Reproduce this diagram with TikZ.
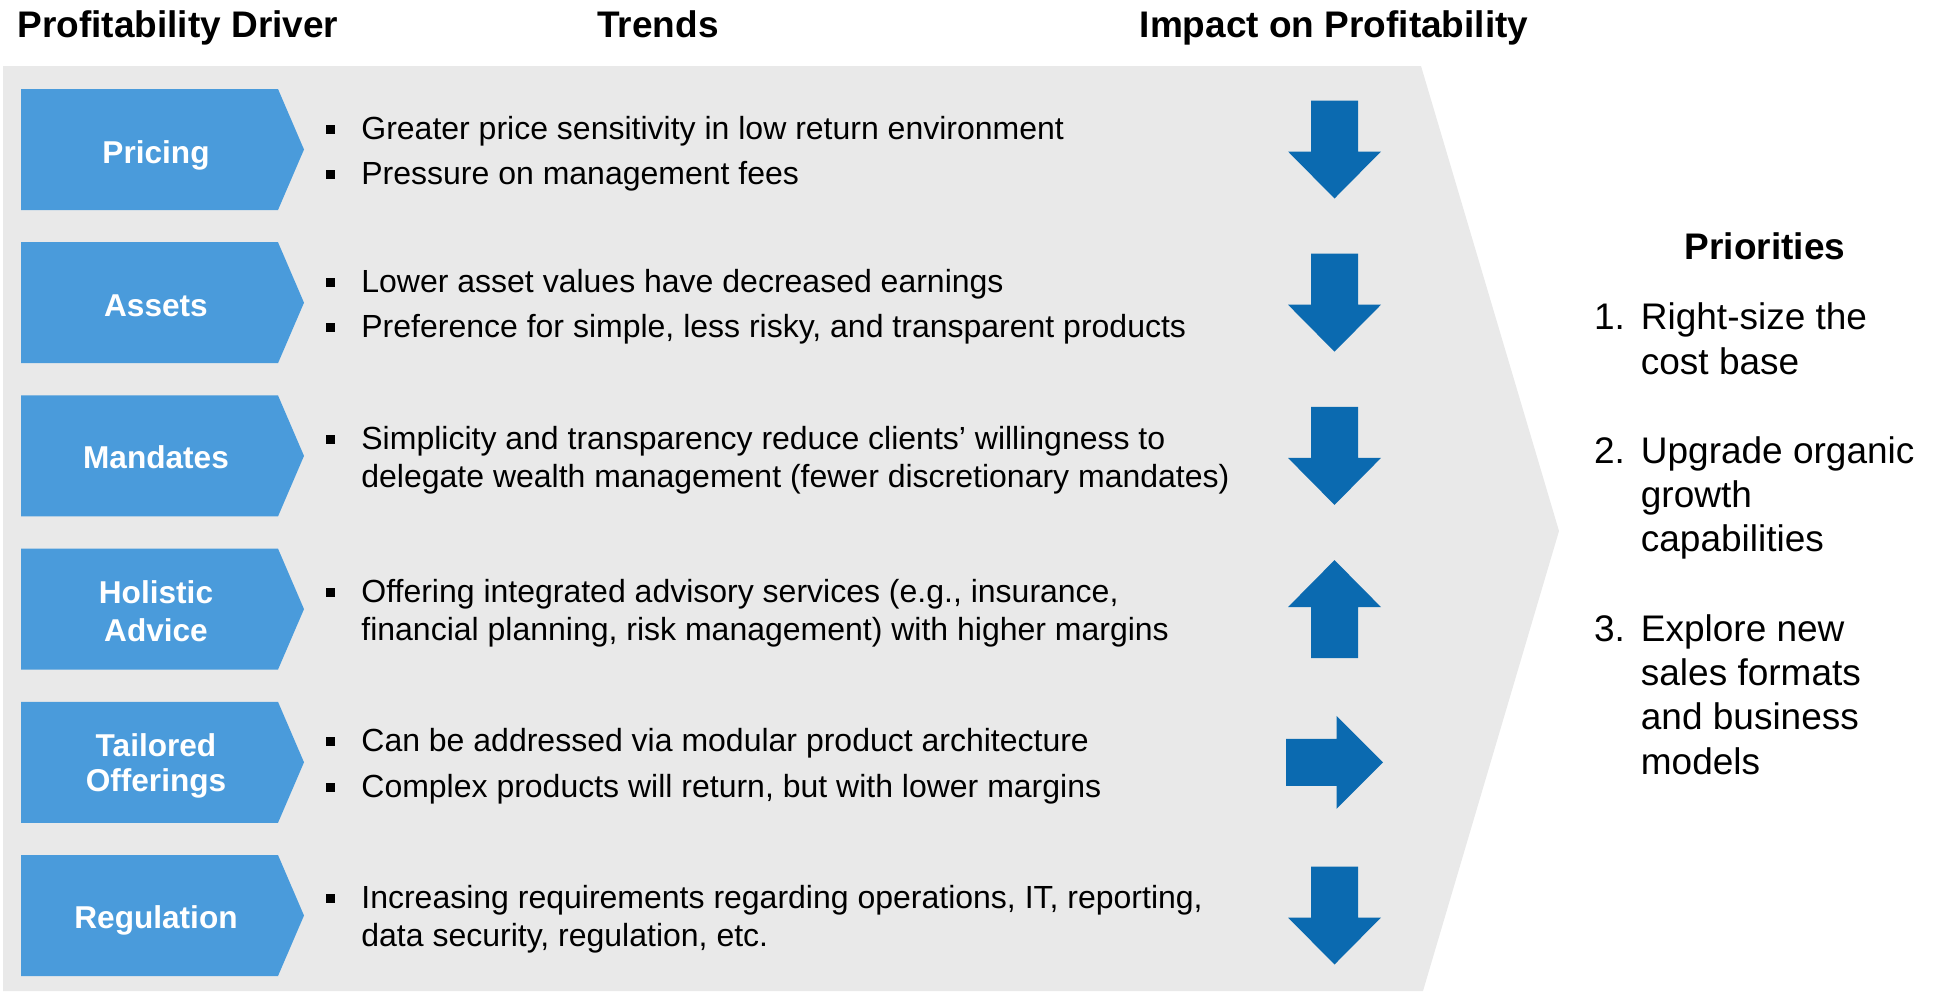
\documentclass[tikz,border=0pt]{standalone}
\usepackage{fontspec}
\setmainfont{Liberation Sans}
\definecolor{panelgrey}{HTML}{E9E9E9}
\definecolor{chevblue}{HTML}{4A9BDB}
\definecolor{arrowblue}{HTML}{0B6AB0}

\tikzset{
  arrowdown/.pic={\fill[arrowblue] (-23.5,-49) -- (23.5,-49) -- (23.5,2) -- (46.5,2) -- (0,49) -- (-46.5,2) -- (-23.5,2) -- cycle;},
  arrowup/.pic={\fill[arrowblue] (-23.5,49) -- (23.5,49) -- (23.5,-2) -- (46.5,-2) -- (0,-49) -- (-46.5,-2) -- (-23.5,-2) -- cycle;},
  arrowright/.pic={\fill[arrowblue] (-48.5,-23.5) -- (2,-23.5) -- (2,-46.5) -- (48.5,0) -- (2,46.5) -- (2,23.5) -- (-48.5,23.5) -- cycle;}
}

\begin{document}
\begin{tikzpicture}[x=0.5pt,y=-0.5pt,
  header/.style={inner sep=0, anchor=base, font=\fontsize{18.5}{22}\selectfont\bfseries},
  driver/.style={inner sep=0, text=white, align=center, font=\fontsize{15.8}{19}\selectfont\bfseries},
  trend/.style={inner sep=0, anchor=base west, align=left, font=\fontsize{16}{19.2}\selectfont},
  bulletsq/.style={fill=black, minimum size=4.5pt, inner sep=0},
  prio/.style={inner sep=0, anchor=base west, align=left, font=\fontsize{18.5}{22.2}\selectfont},
]
\useasboundingbox (0,0) rectangle (1937,991);

% grey panel pointing to the priorities
\fill[panelgrey] (3,66) -- (1421,66) -- (1559,531) -- (1423,991) -- (3,991) -- cycle;

% column headers
\node[header] (hDriver) at (178,37.5) {Profitability Driver};
\node[header] (hTrends) at (658,37.5) {Trends};
\node[header] (hImpact) at (1334,37.5) {Impact on Profitability};

% driver chevrons
\foreach \yc in {149.5,302.7,455.9,609.1,762.3,915.5}
  \fill[chevblue] (21,\yc-60.5) -- (278,\yc-60.5) -- (304,\yc) -- (278,\yc+60.5) -- (21,\yc+60.5) -- cycle;

\node[driver] (dPricing) at (156,155) {Pricing};
\node[driver] (dAssets) at (156,305.5) {Assets};
\node[driver] (dMandates) at (156,457.5) {Mandates};
\node[driver] (dHolistic) at (156,611.5) {Holistic\\Advice};
\node[driver, font=\fontsize{15.8}{17.3}\selectfont\bfseries] (dTailored) at (156,766) {Tailored\\Offerings};
\node[driver] (dRegulation) at (156,920.5) {Regulation};

% trends (multi-line texts are placed by the baseline of their last line)
\node[trend] (t1a) at (361,139) {Greater price sensitivity in low return environment};
\node[trend] (t1b) at (361,184.7) {Pressure on management fees};
\node[trend] (t2a) at (361,292.1) {Lower asset values have decreased earnings};
\node[trend] (t2b) at (361,337.9) {Preference for simple, less risky, and transparent products};
\node[trend] (t3a) at (361,487.4) {Simplicity and transparency reduce clients’ willingness to\\delegate wealth management (fewer discretionary mandates)};
\node[trend] (t4a) at (361,640.6) {Offering integrated advisory services (e.g., insurance,\\financial planning, risk management) with higher margins};
\node[trend] (t5a) at (361,751.7) {Can be addressed via modular product architecture};
\node[trend] (t5b) at (361,797.4) {Complex products will return, but with lower margins};
\node[trend] (t6a) at (361,946.9) {Increasing requirements regarding operations, IT, reporting,\\data security, regulation, etc.};

% bullet squares
\foreach \by [count=\i] in {129,174.7,282.1,327.9,439,592.2,741.7,787.4,898.5}
  \node[bulletsq] (bul\i) at (330,\by) {};

% impact arrows
\pic (aPricing) at (1334.5,149.5) {arrowdown};
\pic (aAssets) at (1334.5,302.7) {arrowdown};
\pic (aMandates) at (1334.5,455.9) {arrowdown};
\pic (aHolistic) at (1334.5,609.1) {arrowup};
\pic (aTailored) at (1334.5,762.3) {arrowright};
\pic (aRegulation) at (1334.5,915.5) {arrowdown};

% priorities
\node[header] (hPrio) at (1765,259) {Priorities};
\node[prio] (n1) at (1593.6,329.7) {1.};
\node[prio] (p1) at (1640.5,374.1) {Right-size the\\cost base};
\node[prio] (n2) at (1593.6,463) {2.};
\node[prio] (p2) at (1640.5,551.8) {Upgrade organic\\growth\\capabilities};
\node[prio] (n3) at (1593.6,641) {3.};
\node[prio] (p3) at (1640.5,774.2) {Explore new\\sales formats\\and business\\models};
\end{tikzpicture}
\end{document}
